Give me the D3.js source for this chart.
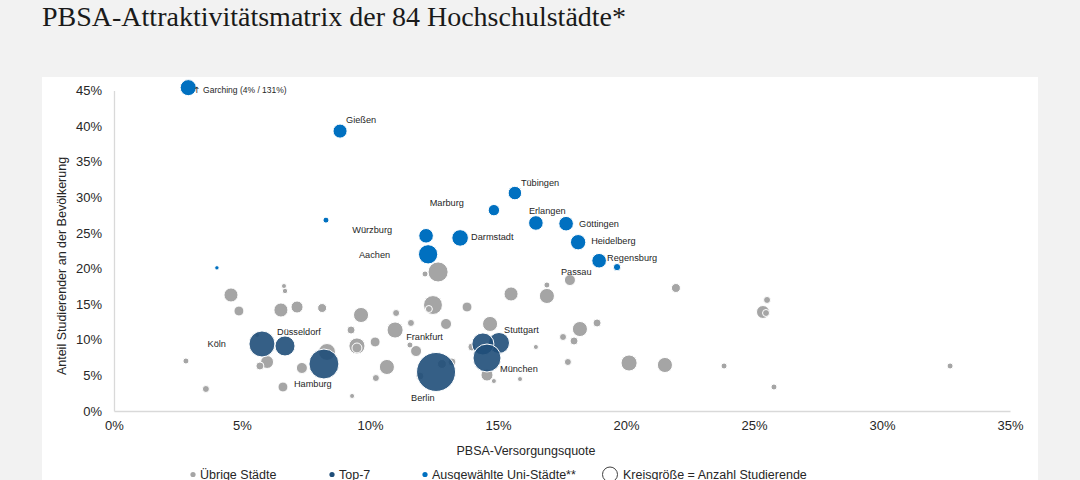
<!DOCTYPE html>
<html><head><meta charset="utf-8">
<script src="https://cdn.jsdelivr.net/npm/d3@7"></script>
<style>
html,body{margin:0;padding:0;background:#f2f2f2;}
svg{display:block;}
</style></head>
<body>
<svg id="chart" width="1080" height="480"></svg>
<script>
// ---- Data (x = PBSA-Versorgungsquote %, y = Anteil Studierender %, s = Studierende in Tsd.) ----
const xTicks = [0, 5, 10, 15, 20, 25, 30, 35];
const yTicks = [0, 5, 10, 15, 20, 25, 30, 35, 40, 45];

const uniNames = ["Garching","Gießen","","","Marburg","Tübingen","Erlangen","Göttingen","Heidelberg","Regensburg","","Würzburg","Darmstadt","Aachen"];
const uniX     = [2.9, 8.83, 8.28, 4.02, 14.84, 15.66, 16.48, 17.66, 18.13, 18.95, 19.65, 12.19, 13.52, 12.27];
const uniY     = [45.4, 39.3, 26.8, 20.1, 28.2, 30.6, 26.4, 26.3, 23.7, 21.1, 20.2, 24.6, 24.3, 22.0];
const uniS     = [34, 26, 4.7, 2.5, 17, 24, 28, 28, 31, 28, 7, 28, 36, 49];

const topNames = ["Stuttgart","Frankfurt","München","Köln","Düsseldorf","Hamburg","Berlin"];
const topX     = [15.04, 14.41, 14.57, 5.78, 6.68, 8.20, 12.58];
const topY     = [9.55, 9.41, 7.44, 9.41, 9.13, 6.6, 5.48];
const topS     = [58, 64, 103, 89, 53, 118, 200];

const otherNames = ["","","","","","","","","","","","","","","","","","","","","","","","","","","","","","","","","","","","","","","Passau","","","","","","","","","","","","","","","","","","","","","",""];
const otherX = [12.66,12.15,6.64,6.68,4.57,4.88,6.52,7.15,8.13,9.65,11.02,12.46,12.30,13.79,9.26,10.98,11.60,12.97,10.20,9.49,9.49,8.32,11.80,11.56,5.98,5.70,2.81,7.34,10.66,10.23,3.59,6.60,9.30,11.95,12.81,13.20,15.51,16.91,17.81,16.91,21.95,14.69,17.54,18.20,18.87,17.97,16.48,13.98,14.57,14.84,15.86,17.73,20.12,21.52,23.83,25.51,25.35,25.47,25.78,32.66,5.59];
const otherY = [19.52,19.24,17.55,16.85,16.29,14.04,14.18,14.6,14.46,13.48,13.76,14.88,14.32,14.6,11.37,11.37,12.36,12.22,9.69,9.13,8.85,8.28,8.42,9.27,6.88,6.32,7.02,6.04,6.18,4.63,3.09,3.37,2.11,4.91,6.6,6.88,16.43,16.15,18.39,17.69,17.27,12.22,10.39,11.51,12.36,9.83,8.99,8.99,5.05,4.21,4.49,6.88,6.74,6.46,6.32,15.59,13.9,13.76,3.37,6.32,10.67];
const otherS = [53,4.7,3.3,3.8,26,13,26,19,10.6,30,6.4,47,6.4,13,8.4,34,6.4,16,13,34,13,38,16,4.7,22,8.4,4.7,16,30,6.4,6.4,13,3.3,8.4,10.6,8.4,26,30,16,4.7,10.6,30,6.4,30,8.4,8.4,3.3,8.4,19,3.3,3.3,6.4,34,30,4.7,6.4,22,6.4,4.7,4.7,3.3];

const legendLabels = ["Übrige Städte", "Top-7", "Ausgewählte Uni-Städte**", "Kreisgröße = Anzahl Studierende"];
const titleText = "PBSA-Attraktivitätsmatrix der 84 Hochschulstädte*";
const xTitle = "PBSA-Versorgungsquote";
const yTitle = "Anteil Studierender an der Bevölkerung";
const garchingNote = "Garching (4% / 131%)";

// ---- Layout / styles ----
const colors = {other: "#a5a5a5", top: "#1f4e79", uni: "#0070c0"};
const labelPlacement = { // [dx, dy, anchor]
  "Garching": [5, 2, "start"], "Gießen": [6, -11, "start"], "Marburg": [-30, -7, "end"],
  "Tübingen": [6, -10, "start"], "Erlangen": [-7, -12, "start"], "Göttingen": [13, 0, "start"],
  "Heidelberg": [13, -1, "start"], "Regensburg": [8, -3, "start"], "Würzburg": [-34, -6, "end"],
  "Darmstadt": [11, -1, "start"], "Aachen": [-38, 0, "end"], "Passau": [-9, -8, "start"],
  "Köln": [-36, 0, "end"], "Düsseldorf": [-8, -14, "start"], "Hamburg": [-30, 20, "start"],
  "Berlin": [-25, 26, "start"], "Frankfurt": [-40, -7, "end"], "Stuttgart": [5, -13, "start"],
  "München": [13, 11, "start"]
};

const svg = d3.select("#chart");
const font = "'Liberation Sans', Arial, sans-serif";

svg.append("rect").attr("x", 42).attr("y", 77).attr("width", 996).attr("height", 410).attr("fill", "#ffffff");

svg.append("text").attr("x", 42).attr("y", 25.5)
  .attr("font-family", "'Liberation Serif','Times New Roman',serif").attr("font-size", 28)
  .attr("fill", "#1a1a1a").text(titleText);

const x = d3.scaleLinear().domain([0, 35]).range([114, 1010]);
const y = d3.scaleLinear().domain([0, 45]).range([411, 90.5]);
const r = d3.scaleSqrt().domain([0, 200]).range([0, 19.5]);

// axes
const xAxis = svg.append("g").attr("transform", "translate(0,411)")
  .call(d3.axisBottom(x).tickValues(xTicks).tickSize(0).tickPadding(10).tickFormat(d => d + "%"));
const yAxis = svg.append("g").attr("transform", "translate(114,0)")
  .call(d3.axisLeft(y).tickValues(yTicks).tickSize(0).tickPadding(12).tickFormat(d => d + "%"));
[xAxis, yAxis].forEach(g => {
  g.select(".domain").attr("stroke", "#d9d9d9").attr("stroke-width", 1.3);
  g.selectAll("text").attr("font-family", font).attr("font-size", 13).attr("fill", "#262626");
});

svg.append("text").attr("x", 526).attr("y", 455).attr("text-anchor", "middle")
  .attr("font-family", font).attr("font-size", 12.5).attr("fill", "#262626").text(xTitle);
svg.append("text").attr("transform", "translate(66,266) rotate(-90)").attr("text-anchor", "middle")
  .attr("font-family", font).attr("font-size", 12.5).attr("fill", "#262626").text(yTitle);

function build(names, xs, ys, ss, group) {
  return names.map((n, i) => ({name: n, x: xs[i], y: ys[i], s: ss[i], group}));
}
const others = build(otherNames, otherX, otherY, otherS, "other").sort((a, b) => b.s - a.s);
const tops = build(topNames, topX, topY, topS, "top");
const unis = build(uniNames, uniX, uniY, uniS, "uni");

const plot = svg.append("g");
function drawCircles(data, opacity) {
  plot.selectAll(null).data(data).enter().append("circle")
    .attr("cx", d => x(d.x)).attr("cy", d => y(d.y)).attr("r", d => r(d.s))
    .attr("fill", d => colors[d.group]).attr("fill-opacity", opacity)
    .attr("stroke", "#ffffff").attr("stroke-width", 1);
}
drawCircles(others, 1);
drawCircles(tops, 0.9);
drawCircles(unis, 1);

const labelled = others.concat(tops, unis).filter(d => d.name && labelPlacement[d.name]);
const labels = plot.selectAll(null).data(labelled).enter().append("text")
  .attr("x", d => x(d.x) + labelPlacement[d.name][0])
  .attr("y", d => y(d.y) + labelPlacement[d.name][1])
  .attr("dy", "0.35em")
  .attr("text-anchor", d => labelPlacement[d.name][2])
  .attr("font-family", font).attr("font-size", d => d.name === "Garching" ? 8.5 : 9.2)
  .attr("fill", "#262626");
labels.filter(d => d.name !== "Garching").text(d => d.name);
const g = labels.filter(d => d.name === "Garching");
g.append("tspan").attr("font-family", "'DejaVu Sans', sans-serif").text("↑ ");
g.append("tspan").text(garchingNote);

// legend
const legendX = [193, 332, 425, 610];
const legendColors = [colors.other, colors.top, colors.uni, null];
const leg = svg.append("g");
legendLabels.forEach((t, i) => {
  if (legendColors[i]) {
    leg.append("circle").attr("cx", legendX[i]).attr("cy", 474.5).attr("r", 2.6).attr("fill", legendColors[i]);
    leg.append("text").attr("x", legendX[i] + 7).attr("y", 478.5).attr("font-family", font)
      .attr("font-size", 12.5).attr("fill", "#262626").text(t);
  } else {
    leg.append("circle").attr("cx", legendX[i]).attr("cy", 474.5).attr("r", 7.5)
      .attr("fill", "none").attr("stroke", "#404040").attr("stroke-width", 1);
    leg.append("text").attr("x", legendX[i] + 13).attr("y", 478.5).attr("font-family", font)
      .attr("font-size", 12.5).attr("fill", "#262626").text(t);
  }
});
</script>
</body></html>
